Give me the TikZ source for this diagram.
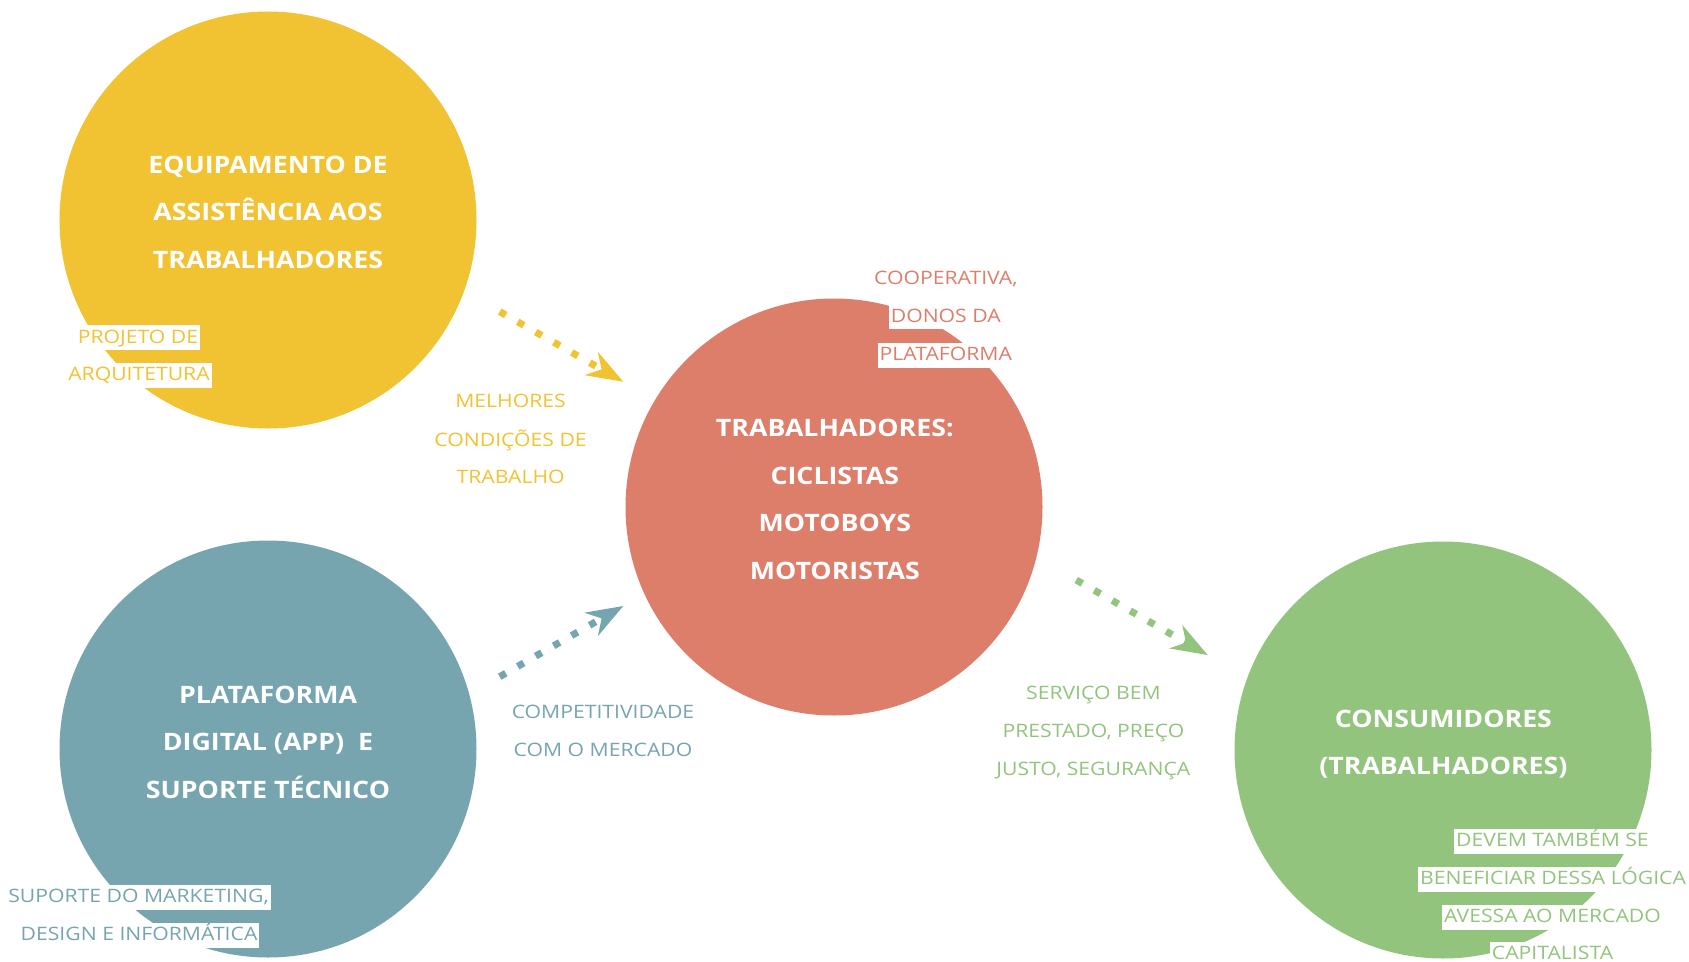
\documentclass[tikz,border=0pt]{standalone}
\usepackage{fontspec}
\setmainfont{Open Sans}
\newfontfamily\titulofonte{Open Sans}[FakeStretch=1.115]
\newfontfamily\notafonte{Open Sans}[FakeStretch=1.145]
\usetikzlibrary{arrows.meta}

\definecolor{amarelo}{HTML}{F1C232}
\definecolor{azul}{HTML}{76A5AF}
\definecolor{vermelho}{HTML}{DD7E6B}
\definecolor{verde}{HTML}{93C47D}

\tikzset{
  bola/.style={circle, minimum size=417pt, inner sep=0pt},
  titulo/.style={text=white, align=center, font=\titulofonte\bfseries\fontsize{24}{47.5}\selectfont},
  nota/.style={fill=white, inner xsep=2pt, inner ysep=3pt, text height=15pt, text depth=4pt, font=\notafonte\fontsize{18.5}{23}\selectfont},
  seta/.style={line width=7pt, dash pattern=on 7pt off 13.7pt, -{Stealth[length=37pt, width=27pt, inset=12pt, line width=0pt]}},
}

\begin{document}
\begin{tikzpicture}[x=1pt, y=-1pt]
  \useasboundingbox (0,0) rectangle (1689,961);

  % --- círculos ---
  \node[bola, fill=amarelo] (equip) at (268,220) {};
  \node[bola, fill=azul] (plat) at (268,749) {};
  \node[bola, fill=vermelho] (trab) at (834,507) {};
  \node[bola, fill=verde] (consum) at (1443,750) {};

  \node[titulo] (equip-tit) at (268,212) {EQUIPAMENTO DE\\ASSISTÊNCIA AOS\\TRABALHADORES};
  \node[titulo] (plat-tit) at (268,742) {PLATAFORMA\\DIGITAL (APP)\ \ E\\SUPORTE TÉCNICO};
  \node[titulo] (trab-tit) at (834.8,499.5) {TRABALHADORES:\\CICLISTAS\\MOTOBOYS\\MOTORISTAS};
  \node[titulo] (consum-tit) at (1443.4,744) {CONSUMIDORES\\(TRABALHADORES)};

  % --- setas pontilhadas ---
  \coordinate (s1a) at (499.7,311.6);
  \coordinate (s1b) at (623.3,381.7);
  \coordinate (s2a) at (499.7,676.7);
  \coordinate (s2b) at (623.3,606);
  \coordinate (s3a) at (1076.3,580);
  \coordinate (s3b) at (1207.7,655);
  \draw[seta, amarelo] (s1a) -- (s1b);
  \draw[seta, azul] (s2a) -- (s2b);
  \draw[seta, verde] (s3a) -- (s3b);

  % --- amarelo ---
  \node[nota, text=amarelo] (proj1) at (138,337.5) {PROJETO DE};
  \node[nota, text=amarelo] (proj2) at (139,375) {ARQUITETURA};
  \node[nota, text=amarelo] (melh1) at (510.6,401.7) {MELHORES};
  \node[nota, text=amarelo] (melh2) at (510.6,440.5) {CONDIÇÕES DE};
  \node[nota, text=amarelo] (melh3) at (510.6,478.2) {TRABALHO};

  % --- vermelho ---
  \node[nota, text=vermelho] (coop1) at (945.8,279) {COOPERATIVA,};
  \node[nota, text=vermelho] (coop2) at (945.8,316.6) {DONOS DA};
  \node[nota, text=vermelho] (coop3) at (945.8,355.4) {PLATAFORMA};

  % --- azul ---
  \node[nota, text=azul] (supo1) at (138.5,897) {SUPORTE DO MARKETING,};
  \node[nota, text=azul] (supo2) at (139,935) {DESIGN E INFORMÁTICA};
  \node[nota, text=azul] (comp1) at (603,713) {COMPETITIVIDADE};
  \node[nota, text=azul] (comp2) at (603,750.7) {COM O MERCADO};

  % --- verde ---
  \node[nota, text=verde] (serv1) at (1093.4,693.6) {SERVIÇO BEM};
  \node[nota, text=verde] (serv2) at (1093.4,732.4) {PRESTADO, PREÇO};
  \node[nota, text=verde] (serv3) at (1093.4,770) {JUSTO, SEGURANÇA};
  \node[nota, text=verde] (deve1) at (1552.5,841) {DEVEM TAMBÉM SE};
  \node[nota, text=verde] (deve2) at (1553,879) {BENEFICIAR DESSA LÓGICA};
  \node[nota, text=verde] (deve3) at (1552.5,917) {AVESSA AO MERCADO};
  \node[nota, text=verde] (deve4) at (1552.5,954) {CAPITALISTA};
\end{tikzpicture}
\end{document}
